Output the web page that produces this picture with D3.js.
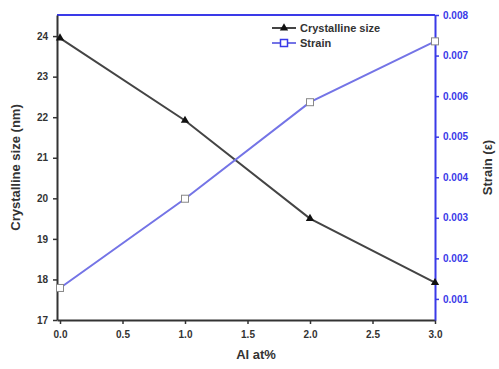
<!DOCTYPE html>
<html>
<head>
<meta charset="utf-8">
<script src="https://cdn.jsdelivr.net/npm/d3@7"></script>
<style>
  body { margin: 0; background: #fff; }
  svg text { font-family: Arial, "Liberation Sans", sans-serif; font-weight: bold; }
</style>
</head>
<body>
<div class="chart"></div>
<script>
(function () {
    'use strict';

    const alContent = [0, 1, 2, 3];
    const crystallineSize = [23.95, 21.92, 19.5, 17.92];
    const strain = [0.00127, 0.00347, 0.00585, 0.00735];
    const xTicks = [0, 0.5, 1, 1.5, 2, 2.5, 3];
    const leftTicks = [17, 18, 19, 20, 21, 22, 23, 24];
    const rightTicks = [0.001, 0.002, 0.003, 0.004, 0.005, 0.006, 0.007, 0.008];

    const W = 499, H = 369;
    const margin = { top: 15, left: 57, right: 64, bottom: 49 };
    const width = W - margin.left - margin.right;
    const height = H - margin.top - margin.bottom;

    const blue = '#3a3ae8';
    const dark = '#333';

    const svg = d3.select('.chart').append('svg')
        .attr('width', W)
        .attr('height', H);

    const g = svg.append('g').attr('transform', 'translate(' + margin.left + ', ' + margin.top + ')');

    const x = d3.scaleLinear().domain([-0.024, 3]).range([0, width]);
    const yL = d3.scaleLinear().domain([17, 24.52]).range([height, 0]);
    const yR = d3.scaleLinear().domain([0.00048, 0.008]).range([height, 0]);

    // frame: top and right in blue
    g.append('line').attr('x1', 0).attr('x2', width).attr('y1', 0).attr('y2', 0)
        .attr('stroke', blue).attr('stroke-width', 2);

    const xAxis = g.append('g').attr('transform', 'translate(0, ' + height + ')')
        .call(d3.axisBottom(x).tickValues(xTicks).tickSize(4).tickSizeOuter(0).tickFormat(d3.format('.1f')));
    xAxis.select('.domain').attr('stroke', dark).attr('stroke-width', 2);
    xAxis.selectAll('line').attr('stroke', dark).attr('stroke-width', 1.5);
    xAxis.selectAll('text').attr('fill', dark).style('font-size', '10px').attr('dy', '1.1em');

    const leftAxis = g.append('g')
        .call(d3.axisLeft(yL).tickValues(leftTicks).tickSize(4).tickSizeOuter(0));
    leftAxis.select('.domain').attr('stroke', dark).attr('stroke-width', 2);
    leftAxis.selectAll('line').attr('stroke', dark).attr('stroke-width', 1.5);
    leftAxis.selectAll('text').attr('fill', dark).style('font-size', '10px').attr('x', -9);

    const rightAxis = g.append('g').attr('transform', 'translate(' + width + ', 0)')
        .call(d3.axisRight(yR).tickValues(rightTicks).tickSize(4).tickSizeOuter(0).tickFormat(d3.format('.3f')));
    rightAxis.select('.domain').attr('stroke', blue).attr('stroke-width', 2);
    rightAxis.selectAll('line').attr('stroke', blue).attr('stroke-width', 1.5);
    rightAxis.selectAll('text').attr('fill', blue).style('font-size', '10px').attr('x', 8);

    // series lines
    const sizeLine = d3.line()
        .x(function (d, i) { return x(alContent[i]); })
        .y(function (d) { return yL(d); });
    const strainLine = d3.line()
        .x(function (d, i) { return x(alContent[i]); })
        .y(function (d) { return yR(d); });

    g.append('path').datum(crystallineSize).attr('d', sizeLine)
        .attr('fill', 'none').attr('stroke', '#444').attr('stroke-width', 2);
    g.append('path').datum(strain).attr('d', strainLine)
        .attr('fill', 'none').attr('stroke', '#7474e6').attr('stroke-width', 2);

    const tri = d3.symbol().type(d3.symbolTriangle).size(30);
    g.selectAll('.tri').data(crystallineSize).enter().append('path')
        .attr('d', tri)
        .attr('transform', function (d, i) { return 'translate(' + x(alContent[i]) + ',' + yL(d) + ')'; })
        .attr('fill', '#111');

    g.selectAll('.sq').data(strain).enter().append('rect')
        .attr('x', function (d, i) { return x(alContent[i]) - 3.5; })
        .attr('y', function (d) { return yR(d) - 3.5; })
        .attr('width', 7).attr('height', 7)
        .attr('fill', '#fff').attr('stroke', '#888').attr('stroke-width', 1);

    // axis titles
    svg.append('text').attr('transform', 'translate(20, ' + (margin.top + height / 2) + ') rotate(-90)')
        .attr('text-anchor', 'middle').attr('fill', dark).style('font-size', '13px')
        .text('Crystalline size (nm)');
    svg.append('text').attr('transform', 'translate(492, ' + (margin.top + height / 2) + ') rotate(-90)')
        .attr('text-anchor', 'middle').attr('fill', dark).style('font-size', '13px')
        .text('Strain (ε)');
    svg.append('text').attr('x', margin.left + width / 2 + 10).attr('y', 359)
        .attr('text-anchor', 'middle').attr('fill', dark).style('font-size', '13px')
        .text('Al at%');

    // legend
    const legendItems = [
        { label: 'Crystalline size', color: '#444', marker: 'tri' },
        { label: 'Strain', color: '#7474e6', marker: 'sq' }
    ];
    const legend = svg.append('g').attr('transform', 'translate(272, 28)');
    legendItems.forEach(function (item, i) {
        const row = legend.append('g').attr('transform', 'translate(0, ' + (i * 15) + ')');
        row.append('line').attr('x1', 0).attr('x2', 24).attr('y1', 0).attr('y2', 0)
            .attr('stroke', item.color).attr('stroke-width', 2);
        if (item.marker === 'tri') {
            row.append('path').attr('d', tri).attr('transform', 'translate(12, 0)').attr('fill', '#111');
        } else {
            row.append('rect').attr('x', 8.5).attr('y', -3.5).attr('width', 7).attr('height', 7)
                .attr('fill', '#fff').attr('stroke', blue).attr('stroke-width', 1.5);
        }
        row.append('text').attr('x', 28).attr('y', 4).attr('fill', dark)
            .style('font-size', '11px').text(item.label);
    });
}());
</script>
</body>
</html>
